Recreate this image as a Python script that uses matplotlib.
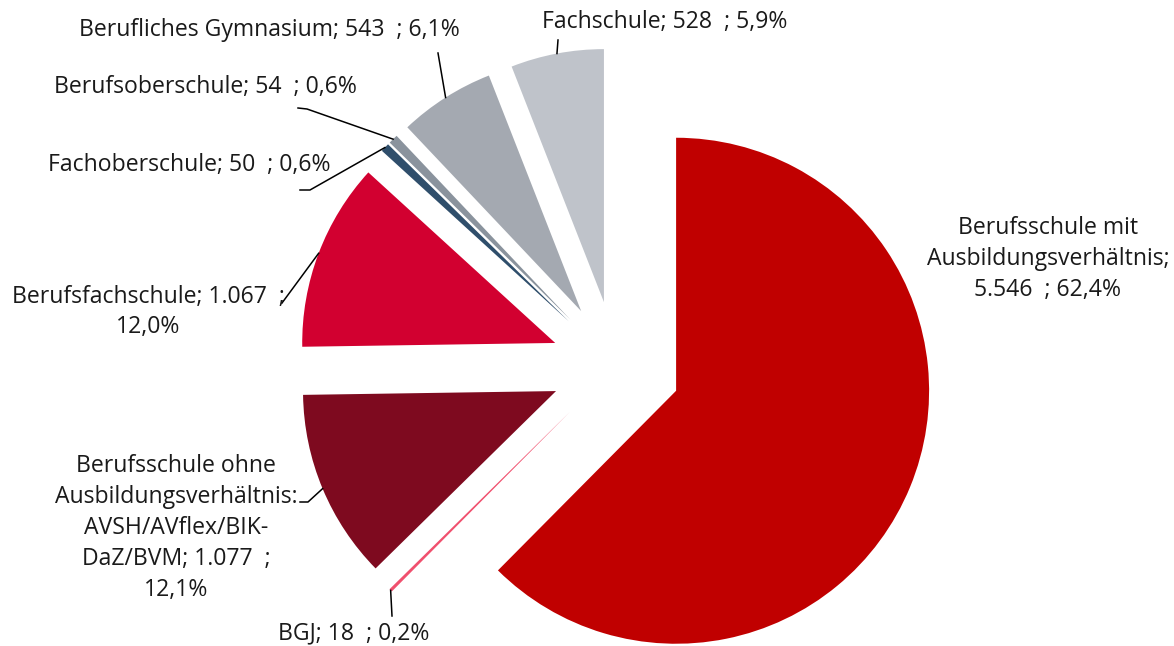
import matplotlib.pyplot as plt
import numpy as np

# data (clockwise from 12 o'clock)
labels = ['Berufsschule mit\nAusbildungsverhältnis;\n5.546  ; 62,4%',
          'BGJ; 18  ; 0,2%',
          'Berufsschule ohne\nAusbildungsverhältnis:\nAVSH/AVflex/BIK-\nDaZ/BVM; 1.077  ;\n12,1%',
          'Berufsfachschule; 1.067  ;\n12,0%',
          'Fachoberschule; 50  ; 0,6%',
          'Berufsoberschule; 54  ; 0,6%',
          'Berufliches Gymnasium; 543  ; 6,1%',
          'Fachschule; 528  ; 5,9%']
values = [5546, 18, 1077, 1067, 50, 54, 543, 528]
colors = ['#C00000', '#F0506E', '#7E0A1F', '#D20030',
          '#2F4E6B', '#8A939D', '#A4A9B1', '#BFC3CA']

W, H = 1174, 646
plt.rcParams['font.family'] = ['Open Sans', 'DejaVu Sans']

fig = plt.figure(figsize=(W / 100, H / 100), dpi=100)
ax = fig.add_axes([0, 0, 1, 1])


def p(x, y):
    # image pixel coords -> data coords
    return x, H - y


R = 253
wedges, _ = ax.pie(values, explode=[65] * len(values), colors=colors,
                   startangle=90, counterclock=False, radius=R,
                   center=p(616, 366), wedgeprops=dict(linewidth=0))
ax.set_xlim(0, W)
ax.set_ylim(0, H)
ax.set_aspect('equal')
ax.axis('off')


def arc_point(w):
    th = np.deg2rad((w.theta1 + w.theta2) / 2)
    cx, cy = w.center
    return cx + w.r * np.cos(th), cy + w.r * np.sin(th)


# label placement: text center, leader line points (image px)
layout = [
    ((1048, 259), None),
    ((354, 633), [(392, 616)]),
    ((176, 528), [(300, 502), (308, 502)]),
    ((148, 312), [(282, 303)]),
    ((189, 165), [(300, 190), (310, 190)]),
    ((205, 87), [(298, 108), (307, 109)]),
    ((269, 30), [(438, 53)]),
    ((665, 22), [(558, 40)]),
]

for w, lab, (tpos, pts) in zip(wedges, labels, layout):
    ax.text(*p(*tpos), lab, ha='center', va='center', fontsize=16.6,
            color='#1a1a1a', linespacing=1.38)
    if pts:
        xs = [p(*q)[0] for q in pts]
        ys = [p(*q)[1] for q in pts]
        ax_, ay_ = arc_point(w)
        xs.append(ax_)
        ys.append(ay_)
        ax.plot(xs, ys, color='black', lw=1.1)

fig.savefig('out.png', dpi=100)
